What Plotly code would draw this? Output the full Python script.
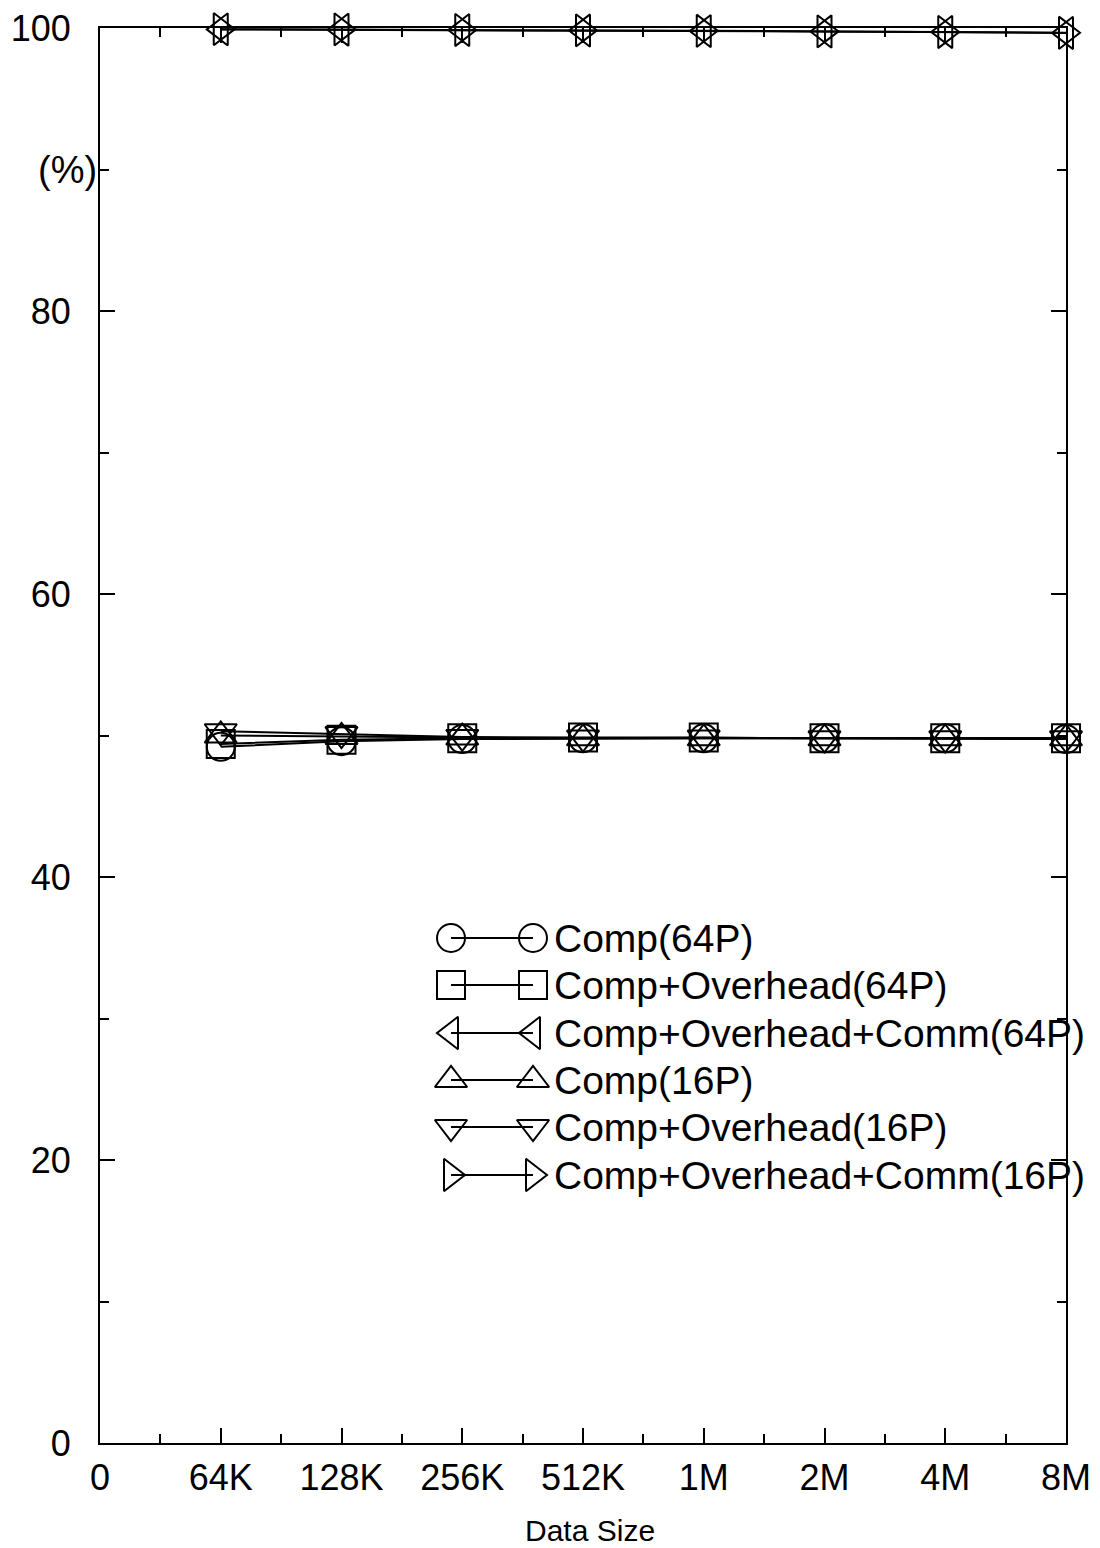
import plotly.graph_objects as go

# ---- data ----
x_labels = ["0", "64K", "128K", "256K", "512K", "1M", "2M", "4M", "8M"]
x_pos = [1, 2, 3, 4, 5, 6, 7, 8]  # index of 64K..8M in x_labels

comp_64 = [49.2, 49.6, 49.75, 49.8, 49.8, 49.8, 49.8, 49.75]
comp_ovh_64 = [49.4, 49.7, 49.8, 49.85, 49.85, 49.8, 49.8, 49.8]
comp_ovh_comm_64 = [99.9, 99.88, 99.85, 99.82, 99.78, 99.75, 99.72, 99.65]
comp_16 = [50.0, 49.9, 49.85, 49.8, 49.8, 49.8, 49.8, 49.8]
comp_ovh_16 = [50.3, 50.1, 49.9, 49.85, 49.85, 49.8, 49.8, 49.8]
comp_ovh_comm_16 = [99.92, 99.9, 99.86, 99.83, 99.8, 99.76, 99.72, 99.66]

series_names = [
    "Comp(64P)",
    "Comp+Overhead(64P)",
    "Comp+Overhead+Comm(64P)",
    "Comp(16P)",
    "Comp+Overhead(16P)",
    "Comp+Overhead+Comm(16P)",
]
series_values = [comp_64, comp_ovh_64, comp_ovh_comm_64, comp_16, comp_ovh_16, comp_ovh_comm_16]
series_symbols = [
    "circle-open",
    "square-open",
    "triangle-left-open",
    "triangle-up-open",
    "triangle-down-open",
    "triangle-right-open",
]

y_ticks = [0, 20, 40, 60, 80, 100]

FONT = "Liberation Sans, Arial, Helvetica, sans-serif"
MSIZE = 28

fig = go.Figure()

for name, vals, sym in zip(series_names, series_values, series_symbols):
    fig.add_trace(go.Scatter(
        x=x_pos, y=vals, name=name, mode="lines+markers",
        line=dict(color="black", width=2),
        marker=dict(symbol=sym, size=MSIZE, color="black", line=dict(width=2, color="black")),
        cliponaxis=False, showlegend=False,
    ))

# ---- hand-drawn style legend (two markers joined by a line) on an overlay axis ----
row_px = [938, 985, 1033, 1080, 1127, 1175]
plot_top, plot_bottom, plot_left, plot_right = 28, 1443, 100, 1066
ph = plot_bottom - plot_top
pw = plot_right - plot_left
for i, (name, sym) in enumerate(zip(series_names, series_symbols)):
    yy = (plot_bottom - row_px[i]) / ph
    x0 = (451 - plot_left) / pw
    x1 = (533 - plot_left) / pw
    fig.add_trace(go.Scatter(
        x=[x0, x1], y=[yy, yy], xaxis="x2", yaxis="y2", mode="lines+markers",
        line=dict(color="black", width=2),
        marker=dict(symbol=sym, size=MSIZE, color="black", line=dict(width=2, color="black")),
        cliponaxis=False, showlegend=False, hoverinfo="skip",
    ))
    fig.add_annotation(
        x=(552 - plot_left) / pw, y=yy, xref="x2", yref="y2", text=name,
        showarrow=False, xanchor="left", yanchor="middle",
        font=dict(family=FONT, size=39, color="black"),
    )

fig.add_annotation(
    x=0, y=90, xref="paper", yref="y", text="(%)", showarrow=False,
    xanchor="right", yanchor="middle", xshift=-1,
    font=dict(family=FONT, size=38, color="black"),
)
fig.add_annotation(
    x=0.5, y=-0.062, xref="paper", yref="paper", text="Data Size", showarrow=False,
    xanchor="center", yanchor="middle", xshift=7,
    font=dict(family=FONT, size=30, color="black"),
)

axis_common = dict(
    showgrid=False, zeroline=False, showline=True, linecolor="black", linewidth=2,
    mirror="ticks", ticks="inside", ticklen=15, tickwidth=2, tickcolor="black",
    tickfont=dict(family=FONT, size=36, color="black"), automargin=False,
)

fig.update_layout(
    width=1100, height=1548,
    margin=dict(l=plot_left, r=1100 - plot_right, t=plot_top, b=1548 - plot_bottom),
    paper_bgcolor="white", plot_bgcolor="white",
    font=dict(family=FONT, color="black"),
    xaxis=dict(
        range=[0, 8], tickmode="array", tickvals=list(range(len(x_labels))), ticktext=x_labels,
        ticklabelstandoff=2,
        minor=dict(tickmode="array", tickvals=[i + 0.5 for i in range(8)], ticks="inside",
                   ticklen=9, tickwidth=2, tickcolor="black"),
        **axis_common,
    ),
    yaxis=dict(
        range=[0, 100], tickmode="array", tickvals=y_ticks, ticktext=[str(v) for v in y_ticks],
        ticklabelstandoff=20,
        minor=dict(tickmode="array", tickvals=[10, 30, 50, 70, 90], ticks="inside",
                   ticklen=9, tickwidth=2, tickcolor="black"),
        **axis_common,
    ),
    xaxis2=dict(overlaying="x", range=[0, 1], visible=False),
    yaxis2=dict(overlaying="y", range=[0, 1], visible=False),
)

fig.write_html("out.html")
